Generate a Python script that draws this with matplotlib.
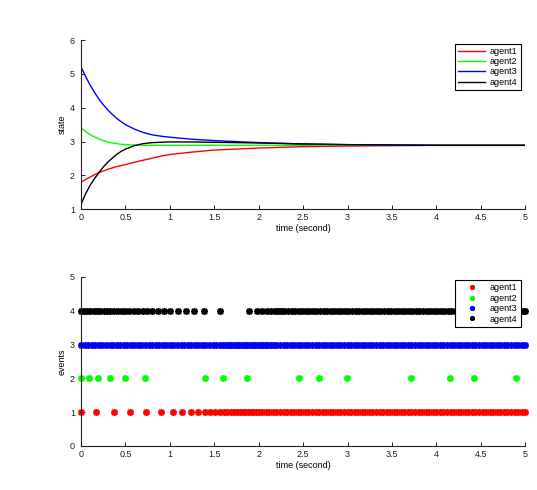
"""
Consensus of four agents: state trajectories and event-trigger instants.
Writes out.png
"""

import matplotlib

matplotlib.use("Agg")
import matplotlib.pyplot as plt

plt.rcParams["font.family"] = ["Liberation Sans", "DejaVu Sans"]

# ---- top panel: agent states ----
time = [0, 0.05, 0.1, 0.15, 0.2, 0.25, 0.3, 0.35, 0.4, 0.45, 0.5, 0.6, 0.7, 0.8, 0.9,
        1.0, 1.25, 1.5, 1.75, 2.0, 2.5, 3.0, 3.5, 4.0, 5.0]
state_agent1 = [1.8, 1.88, 1.95, 2.02, 2.08, 2.13, 2.18, 2.22, 2.26, 2.29, 2.32, 2.39, 2.45,
                2.51, 2.57, 2.62, 2.69, 2.75, 2.78, 2.81, 2.85, 2.87, 2.88, 2.89, 2.89]
state_agent2 = [3.4, 3.3, 3.21, 3.14, 3.08, 3.03, 2.99, 2.96, 2.94, 2.92, 2.91, 2.9, 2.89,
                2.89, 2.89, 2.89, 2.89, 2.89, 2.89, 2.89, 2.89, 2.89, 2.89, 2.89, 2.89]
state_agent3 = [5.2, 4.93, 4.68, 4.46, 4.26, 4.09, 3.94, 3.81, 3.69, 3.59, 3.5, 3.37, 3.27,
                3.2, 3.16, 3.13, 3.07, 3.03, 3.0, 2.97, 2.93, 2.91, 2.9, 2.89, 2.89]
state_agent4 = [1.15, 1.45, 1.7, 1.9, 2.08, 2.25, 2.39, 2.51, 2.62, 2.71, 2.78, 2.88, 2.94,
                2.97, 2.98, 2.99, 2.99, 2.98, 2.97, 2.96, 2.93, 2.91, 2.9, 2.89, 2.89]

# ---- bottom panel: event instants (s) ----
events_agent1 = [
    0, 0.17, 0.365, 0.555, 0.735, 0.9, 1.035, 1.14, 1.235, 1.318, 1.393, 1.455, 1.51,
    1.56, 1.605, 1.645, 1.685, 1.72, 1.755, 1.79, 1.82, 1.85, 1.88, 1.91, 1.94, 1.97,
    2.0, 2.04, 2.08, 2.12, 2.16, 2.2, 2.24, 2.28, 2.32, 2.36, 2.4, 2.44, 2.48, 2.52,
    2.56, 2.6, 2.64, 2.68, 2.72, 2.76, 2.8, 2.84, 2.88, 2.92, 2.96, 3.0, 3.04, 3.08,
    3.12, 3.16, 3.2, 3.24, 3.28, 3.32, 3.36, 3.4, 3.44, 3.48, 3.52, 3.56, 3.6, 3.64,
    3.68, 3.72, 3.76, 3.8, 3.84, 3.88, 3.92, 3.96, 4.0, 4.04, 4.08, 4.12, 4.16, 4.2,
    4.24, 4.28, 4.32, 4.36, 4.4, 4.44, 4.48, 4.52, 4.56, 4.6, 4.64, 4.68, 4.72, 4.76,
    4.8, 4.84, 4.88, 4.92, 4.96, 5.0,
]
events_agent2 = [0, 0.09, 0.196, 0.327, 0.492, 0.725, 1.393, 1.6, 1.865, 2.448, 2.675,
                 2.998, 3.714, 4.15, 4.428, 4.892]
events_agent3 = [
    0, 0.04, 0.08, 0.12, 0.16, 0.2, 0.24, 0.28, 0.32, 0.36, 0.4, 0.44, 0.48, 0.52, 0.56,
    0.6, 0.64, 0.68, 0.72, 0.76, 0.8, 0.84, 0.88, 0.92, 0.96, 1.0, 1.04, 1.08, 1.12,
    1.16, 1.2, 1.24, 1.28, 1.32, 1.36, 1.4, 1.44, 1.48, 1.52, 1.56, 1.6, 1.63, 1.66,
    1.69, 1.72, 1.75, 1.78, 1.81, 1.84, 1.87, 1.9, 1.93, 1.96, 1.99, 2.02, 2.05, 2.08,
    2.11, 2.14, 2.17, 2.2, 2.24, 2.28, 2.32, 2.36, 2.4, 2.44, 2.48, 2.52, 2.56, 2.6,
    2.64, 2.68, 2.72, 2.76, 2.8, 2.84, 2.88, 2.92, 2.96, 3.0, 3.04, 3.08, 3.12, 3.16,
    3.2, 3.24, 3.28, 3.32, 3.36, 3.4, 3.44, 3.48, 3.52, 3.56, 3.6, 3.64, 3.68, 3.72,
    3.76, 3.8, 3.84, 3.88, 3.92, 3.96, 4.0, 4.04, 4.08, 4.12, 4.16, 4.2, 4.24, 4.28,
    4.32, 4.36, 4.4, 4.44, 4.48, 4.52, 4.56, 4.6, 4.64, 4.68, 4.72, 4.76, 4.8, 4.84,
    4.88, 4.92, 4.96, 5.0,
]
events_agent4 = [
    0, 0.03, 0.068, 0.105, 0.143, 0.18, 0.218, 0.256, 0.293, 0.33, 0.372, 0.413, 0.455,
    0.5, 0.545, 0.593, 0.642, 0.695, 0.747, 0.804, 0.864, 0.93, 1.0, 1.09, 1.18, 1.275,
    1.383, 1.56, 1.885, 1.975, 2.04, 2.095, 2.14, 2.18, 2.215, 2.25, 2.29, 2.33, 2.37,
    2.41, 2.45, 2.49, 2.53, 2.57, 2.61, 2.65, 2.69, 2.73, 2.77, 2.81, 2.85, 2.89, 2.93,
    2.97, 3.01, 3.05, 3.09, 3.13, 3.17, 3.21, 3.25, 3.29, 3.33, 3.37, 3.41, 3.45, 3.49,
    3.53, 3.57, 3.61, 3.65, 3.69, 3.73, 3.77, 3.81, 3.85, 3.89, 3.93, 3.97, 4.01, 4.05,
    4.09, 4.13, 4.17, 4.21, 4.25, 4.29, 4.33, 4.37, 4.41, 4.45, 4.49, 4.53, 4.57, 4.61,
    4.65, 4.69, 4.73, 4.77, 4.81, 4.85, 4.89, 4.93, 4.97, 5.0,
]

agent_names = ["agent1", "agent2", "agent3", "agent4"]
agent_colors = ["#ff0000", "#00ff00", "#0000ff", "#000000"]
x_ticks = [0, 0.5, 1, 1.5, 2, 2.5, 3, 3.5, 4, 4.5, 5]
x_ticklabels = ["0", "0.5", "1", "1.5", "2", "2.5", "3", "3.5", "4", "4.5", "5"]

FS = 6.5
ASTERISK = (8, 2, 0)


def matlab_axes(ax):
    for side in ("top", "right"):
        ax.spines[side].set_visible(False)
    for side in ("left", "bottom"):
        ax.spines[side].set_linewidth(0.8)
        ax.spines[side].set_color("#202020")
    ax.tick_params(direction="in", length=3, width=0.7, labelsize=FS, pad=3,
                   top=False, right=False, colors="#202020")
    ax.tick_params(axis="y", pad=4.5)
    ax.set_xlim(0, 5)
    ax.set_xticks(x_ticks)
    ax.set_xticklabels(x_ticklabels)


fig = plt.figure(figsize=(5.37, 4.90), dpi=100)
ax1 = fig.add_axes([0.151, 0.573, 0.827, 0.345])
ax2 = fig.add_axes([0.151, 0.0898, 0.827, 0.345])

states = [state_agent1, state_agent2, state_agent3, state_agent4]
for name, color, values in zip(agent_names, agent_colors, states):
    ax1.plot(time, values, color=color, linewidth=1.0, label=name)
matlab_axes(ax1)
ax1.set_ylim(1, 6)
ax1.set_yticks([1, 2, 3, 4, 5, 6])
ax1.set_xlabel("time (second)", fontsize=FS, labelpad=1)
ax1.set_ylabel("state", fontsize=FS, labelpad=2)
leg1 = ax1.legend(loc="upper right", bbox_to_anchor=(0.99, 0.98), fontsize=FS,
                  frameon=True, fancybox=False, framealpha=1, edgecolor="black",
                  handlelength=3.0, handletextpad=0.5, labelspacing=0.15,
                  borderpad=0.35, borderaxespad=0)
leg1.get_frame().set_linewidth(0.8)

events = [events_agent1, events_agent2, events_agent3, events_agent4]
for k, (name, color, times) in enumerate(zip(agent_names, agent_colors, events)):
    ax2.plot(times, [k + 1] * len(times), linestyle="none", marker=ASTERISK,
             markersize=4.9, markeredgewidth=1.2, color=color, label=name,
             clip_on=False)
matlab_axes(ax2)
ax2.set_ylim(0, 5)
ax2.set_yticks([0, 1, 2, 3, 4, 5])
ax2.set_xlabel("time (second)", fontsize=FS, labelpad=1)
ax2.set_ylabel("events", fontsize=FS, labelpad=2)
leg2 = ax2.legend(loc="upper right", bbox_to_anchor=(0.99, 0.98), fontsize=FS,
                  frameon=True, fancybox=False, framealpha=1, edgecolor="black",
                  handlelength=3.0, handletextpad=0.5, labelspacing=0.15,
                  borderpad=0.35, borderaxespad=0, markerscale=0.7)
leg2.get_frame().set_linewidth(0.8)
leg2.set_zorder(5)

fig.savefig("out.png", dpi=100)
